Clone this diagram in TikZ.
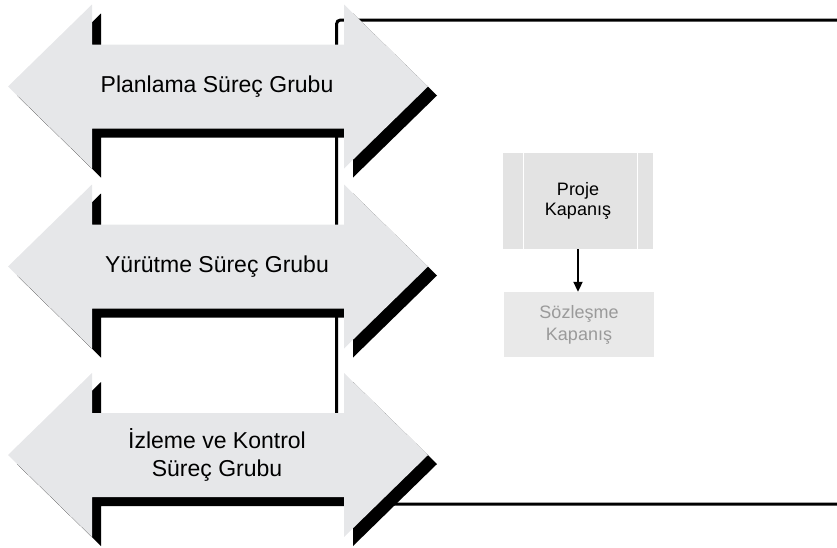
\documentclass[tikz,border=0pt]{standalone}
\usepackage{fontspec}
\setmainfont{Liberation Sans}
\usetikzlibrary{arrows.meta}

\definecolor{arrowgray}{HTML}{E6E7E9}
\definecolor{boxgray}{HTML}{E3E3E3}
\definecolor{paleboxgray}{HTML}{E9E9E9}
\definecolor{paletext}{HTML}{9A9A9A}

\tikzset{
  grouplabel/.style={align=center, text=black,
    font=\fontsize{23}{28}\selectfont},
  arrowbody/.style={fill=arrowgray},
  arrowshadow/.style={fill=black},
  frameline/.style={draw=black, line width=3pt, rounded corners=4pt},
  closingbox/.style={fill=boxgray, minimum width=150pt, minimum height=96pt,
    align=center, inner sep=0pt, font=\fontsize{18}{20}\selectfont},
  paleclosingbox/.style={fill=paleboxgray, text=paletext, minimum width=150pt,
    minimum height=65pt, align=center, inner sep=0pt,
    font=\fontsize{18}{22}\selectfont},
  sidebar/.style={draw=white, line width=1.3pt},
  flowarrow/.style={draw=black, line width=2pt,
    -{Triangle[length=10pt,width=9pt]}}
}

% double-headed process-group arrow with a black drop shadow
\newcommand\grouparrow[3]{%
  \begin{scope}[shift={(0,#1)}]
    \fill[arrowshadow, shift={(9,9)}]
      (8,0) -- (92,-82) -- (92,-42) -- (344,-42) -- (344,-82) -- (428,0)
      -- (344,82) -- (344,42) -- (92,42) -- (92,82) -- cycle;
    \fill[arrowbody]
      (8,0) -- (92,-82) -- (92,-42) -- (344,-42) -- (344,-82) -- (428,0)
      -- (344,82) -- (344,42) -- (92,42) -- (92,82) -- cycle;
    \node[grouplabel] (#2) at (217,0) {#3};
  \end{scope}}

\begin{document}
\begin{tikzpicture}[x=1pt, y=-1pt]
  \useasboundingbox (0,0) rectangle (837,547);

  % frame behind the arrows
  \draw[frameline] (845,20) -- (336.5,20) -- (336.5,504) -- (845,504);

  \grouparrow{86.5}{planlama}{Planlama Süreç Grubu}
  \grouparrow{266.5}{yurutme}{Yürütme Süreç Grubu}
  \grouparrow{455}{izleme}{İzleme ve Kontrol\\Süreç Grubu}

  % closing processes
  \node[closingbox] (proje) at (578,201) {Proje\\Kapanış};
  \draw[sidebar] ([xshift=21pt]proje.north west) -- ([xshift=21pt]proje.south west);
  \draw[sidebar] ([xshift=-16pt]proje.north east) -- ([xshift=-16pt]proje.south east);

  \node[paleclosingbox] (sozlesme) at (579,324.5) {Sözleşme\\Kapanış};

  \draw[flowarrow] (proje.south) -- (proje.south |- sozlesme.north);
\end{tikzpicture}
\end{document}
